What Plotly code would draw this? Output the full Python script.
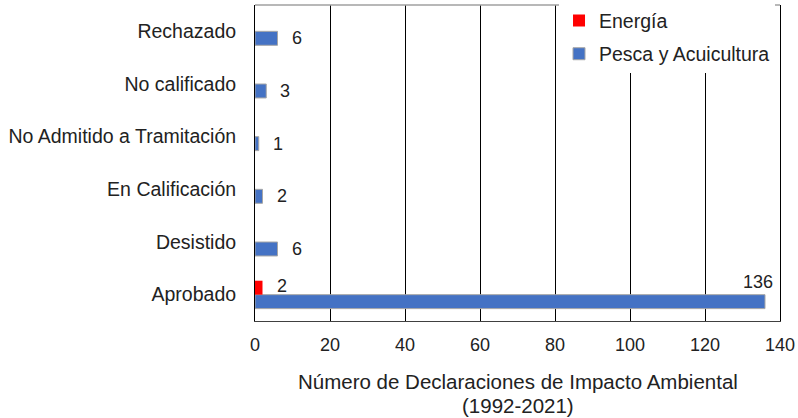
import plotly.graph_objects as go

categories = ["Aprobado", "Desistido", "En Calificación", "No Admitido a Tramitación", "No calificado", "Rechazado"]
energia = [2, None, None, None, None, None]
pesca = [136, 6, 2, 1, 3, 6]
x_ticks = [0, 20, 40, 60, 80, 100, 120, 140]
x_title_lines = ["Número de Declaraciones de Impacto Ambiental", "(1992-2021)"]

FONT = "Liberation Sans, Arial, sans-serif"
TXT = "#222222"

fig = go.Figure()
fig.add_trace(go.Bar(
    y=categories, x=pesca, orientation="h", name="Pesca y Acuicultura",
    marker=dict(color="#4472C4", line=dict(color="#A6A6A6", width=1)),
    legendgroup="b", legendrank=2, hoverinfo="x+y",
))
fig.add_trace(go.Bar(
    y=categories, x=energia, orientation="h", name="Energía",
    marker=dict(color="#FF0000", line=dict(color="#FF0000", width=0)),
    legendgroup="a", legendrank=1, hoverinfo="x+y",
))

annotations = []
xmax = x_ticks[-1]
LBL = dict(size=18, color=TXT, family=FONT)
for cat, v in zip(categories, pesca):
    if v is None:
        continue
    if v > 0.9 * xmax:
        annotations.append(dict(x=v, y=cat, text=str(v), showarrow=False, xanchor="center",
                                xshift=-7, yshift=13, font=LBL))
    else:
        annotations.append(dict(x=v, y=cat, text=str(v), showarrow=False, xanchor="left",
                                xshift=12, yshift=-7, font=LBL))
for cat, v in zip(categories, energia):
    if v is None:
        continue
    annotations.append(dict(x=v, y=cat, text=str(v), showarrow=False, xanchor="left",
                            xshift=12, yshift=9, font=LBL))

# axis title lines as paper annotations
for line, ypos in zip(x_title_lines, [-0.193, -0.266]):
    annotations.append(dict(x=0.5, y=ypos, xref="paper", yref="paper", text=line,
                            showarrow=False, xanchor="center", yanchor="middle",
                            font=dict(size=20.5, color=TXT, family=FONT)))

fig.update_layout(
    width=798, height=418,
    margin=dict(l=255, r=18, t=5, b=97, autoexpand=False),
    paper_bgcolor="white", plot_bgcolor="white",
    barmode="group", bargap=0.47, bargroupgap=0,
    font=dict(family=FONT, size=18, color=TXT),
    showlegend=True,
    legend=dict(
        x=0.9905, y=1.012, xanchor="right", yanchor="top",
        bgcolor="white", borderwidth=0,
        traceorder="grouped", tracegroupgap=5,
        font=dict(size=19.5, color=TXT, family=FONT),
        itemwidth=30,
    ),
    annotations=annotations,
    xaxis=dict(
        range=[0, xmax], tickvals=x_ticks, ticktext=[str(t) for t in x_ticks],
        showgrid=True, gridcolor="black", gridwidth=1,
        showline=True, linecolor="#404040", linewidth=1,
        ticks="", ticklabelstandoff=7, automargin=False,
        zeroline=False, fixedrange=True,
        tickfont=dict(size=18, color=TXT, family=FONT),
    ),
    yaxis=dict(
        categoryorder="array", categoryarray=categories,
        showline=True, linecolor="black", linewidth=1, mirror=True,
        showgrid=False, ticks="", ticklabelstandoff=14, automargin=False,
        tickfont=dict(size=19.5, color=TXT, family=FONT),
    ),
    shapes=[dict(type="line", xref="paper", yref="paper", x0=0, x1=1, y0=1, y1=1,
                 line=dict(color="#A0A0A0", width=1.5))],
)

fig.write_html("out.html")
